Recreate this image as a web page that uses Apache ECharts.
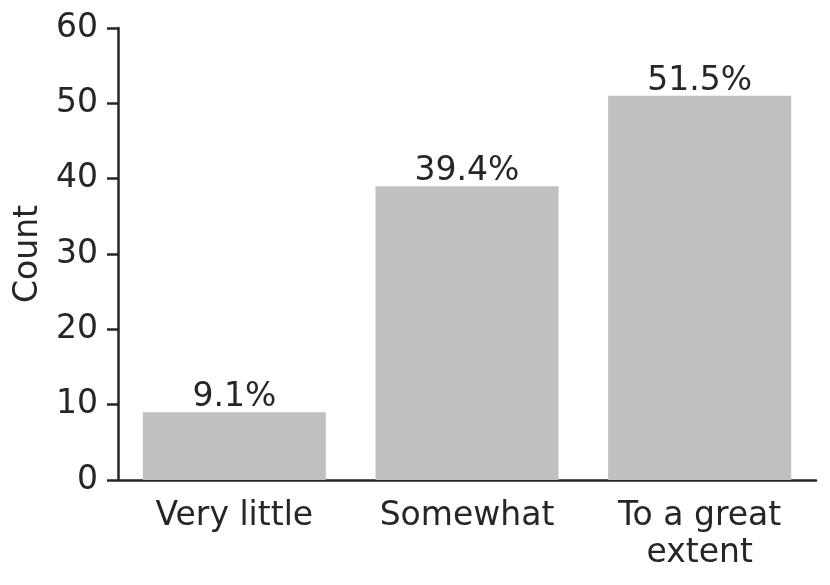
<!DOCTYPE html>
<html><head><meta charset="utf-8">
<script src="https://cdn.jsdelivr.net/npm/echarts@6/dist/echarts.min.js"></script>
<style>html,body{margin:0;padding:0;background:#fff}#c{width:830px;height:585px}</style>
</head><body><div id="c"></div>
<script>
const categories = ['Very little', 'Somewhat', 'To a great extent'];
const counts = [9, 39, 51];
const percentLabels = ['9.1%', '39.4%', '51.5%'];
const yTicks = [0, 10, 20, 30, 40, 50, 60];

const FONT = 'DejaVu Sans';
const INK = '#262626';
const chart = echarts.init(document.getElementById('c'), null, {renderer: 'canvas'});
chart.setOption({
  animation: false,
  textStyle: {fontFamily: FONT, color: INK},
  grid: {left: 118, right: 14, top: 28, bottom: 105, containLabel: false},
  xAxis: {
    type: 'category',
    data: categories,
    axisLine: {lineStyle: {color: INK, width: 2.5}},
    axisTick: {alignWithLabel: true, length: 10, lineStyle: {color: INK, width: 2.5}},
    axisLabel: {
      fontFamily: FONT, fontSize: 33, color: INK, margin: 18, lineHeight: 37,
      formatter: v => v === 'To a great extent' ? 'To a great\nextent' : v
    }
  },
  yAxis: {
    type: 'value',
    min: yTicks[0], max: yTicks[yTicks.length - 1], interval: 10,
    name: 'Count', nameLocation: 'middle', nameGap: 70,
    nameTextStyle: {fontFamily: FONT, fontSize: 33, color: INK},
    axisLine: {show: true, lineStyle: {color: INK, width: 2.5}},
    axisTick: {show: true, length: 11, lineStyle: {color: INK, width: 2.5}},
    axisLabel: {fontFamily: FONT, fontSize: 33, color: INK, margin: 20, padding: [6, 0, 0, 0]},
    splitLine: {show: false}
  },
  series: [{
    type: 'bar',
    data: counts,
    barWidth: 183,
    itemStyle: {color: '#c0c0c0'},
    label: {
      show: true, position: 'top', distance: -2,
      fontFamily: FONT, fontSize: 33, color: INK,
      formatter: p => percentLabels[p.dataIndex]
    }
  }]
});
</script></body></html>
